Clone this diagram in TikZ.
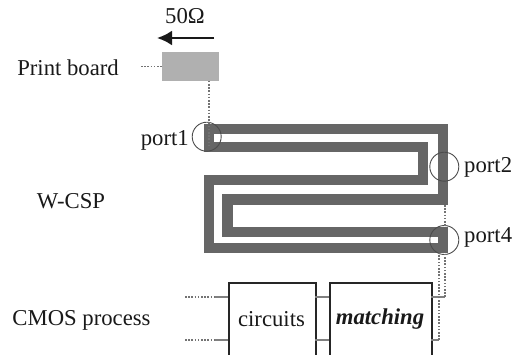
\documentclass[tikz,border=0pt]{standalone}
\usepackage{fontspec}
\usetikzlibrary{arrows.meta}
\setmainfont{Liberation Serif}
\begin{document}
\begin{tikzpicture}[x=1pt,y=-1pt,
  lbl/.style={inner sep=0pt,font=\fontsize{22.7}{25}\selectfont,text=black!90},
  blk/.style={draw=black!85,line width=2.2pt,fill=white,inner sep=0pt},
  dots/.style={draw=black!55,line width=1.1pt,dash pattern=on 1.6pt off 1.6pt},
  lead/.style={draw=black!50,line width=1.2pt},
  ring/.style={circle,draw=black!70,line width=0.9pt,inner sep=0pt,minimum size=29pt},
  trace/.style={draw=black!60,line width=10.5pt,miter limit=10,line join=miter}]
\useasboundingbox (0,0) rectangle (517,354);
% meander trace
\draw[trace] (209,147) -- (423,147) -- (423,180) -- (209,180) -- (209,248) -- (443,248)
  -- (443,232) -- (227.5,232) -- (227.5,199.5) -- (443,199.5) -- (443,129) -- (209,129) -- cycle;
% board
\node[fill=black!31,inner sep=0pt,minimum width=57pt,minimum height=28.5pt] (board) at (190.5,66.5) {};
\node[lbl,anchor=east] (printlbl) at (119,68) {Print board};
\node[lbl] (ohm) at (185,16) {50Ω};
\coordinate (arrR) at (214,38);
\coordinate (arrL) at (157,38);
\draw[line width=2.5pt,black!90,-{Latex[length=15pt,width=15pt]}] (arrR) -- (arrL);
\path (printlbl.east) ++(22,-1.5) coordinate (bl);
\draw[dots] (bl) -- (board.west);
% ports
\node[ring] (p1) at (206.7,136.7) {};
\node[ring] (p2) at (444.3,166.7) {};
\node[ring] (p4) at (444.3,240) {};
\coordinate (p1in) at (209,146);
\draw[dots] (209,80.7) -- (p1in);
\draw[dots] (445,205) -- (445,227);
\node[lbl,anchor=east] (p1l) at (189,140) {port1};
\node[lbl,anchor=west] (p2l) at (464,167) {port2};
\node[lbl,anchor=west] (p4l) at (464,237) {port4};
\node[lbl] (wcsp) at (71,201) {W-CSP};
\node[lbl] (cmos) at (81.5,320) {CMOS process};
% blocks
\node[blk,minimum width=87pt,minimum height=76pt,anchor=north west] (circ) at (228,282) {};
\node[blk,minimum width=102pt,minimum height=76pt,anchor=north west] (match) at (329,282) {};
\node[lbl] (ct) at (271.5,319.5) {circuits};
\node[lbl,font=\fontsize{22.7}{25}\selectfont\bfseries\itshape] (mt) at (380,319.5) {matching};
% leads
\coordinate (a1) at (185,297); \coordinate (a2) at (215,297);
\coordinate (b1) at (185,340); \coordinate (b2) at (215,340);
\draw[dots] (a1) -- (a2); \draw[dots] (b1) -- (b2);
\draw[lead] (a2) -- (228,297); \draw[lead] (b2) -- (228,340);
\draw[lead] (315,297) -- (329,297);
\draw[lead] (315,340) -- (329,340);
\draw[lead] (431,297) -- (445,297);
\draw[lead] (431,340) -- (439,340);
\draw[dots] (445,297) -- (445,253);
\draw[dots] (439,340) -- (439,253);
\end{tikzpicture}
\end{document}
